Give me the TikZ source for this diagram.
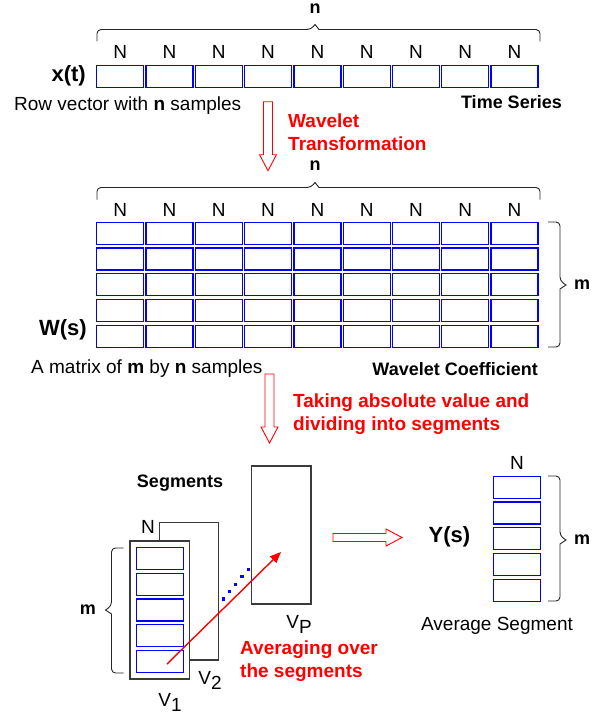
\documentclass[tikz,border=0pt]{standalone}
\usepackage{fontspec}
\setmainfont{Liberation Sans}
\usetikzlibrary{arrows.meta,positioning}
\definecolor{cellblue}{HTML}{0000FF}
\definecolor{boxgray}{HTML}{3A3A3A}
\definecolor{textred}{HTML}{FF0000}
\tikzset{
  cell/.style={draw=cellblue,line width=1.3pt,minimum width=47pt,minimum height=22pt,inner sep=0pt},
  segbox/.style={draw=boxgray,line width=1.1pt,fill=white,inner sep=0pt},
  lbl/.style={font=\fontsize{19}{22}\selectfont,inner sep=0pt},
  blbl/.style={font=\fontsize{18}{22}\selectfont\bfseries,inner sep=0pt},
  sig/.style={font=\fontsize{22}{24}\selectfont\bfseries,inner sep=0pt},
  redlbl/.style={font=\fontsize{19}{23}\selectfont\bfseries,text=textred,align=left,inner sep=0pt},
  bracket/.style={draw=black!85,line width=0.9pt},
  hollow/.style={draw=textred,line width=0.9pt,fill=white},
  avgarrow/.style={textred,line width=1.4pt,-{Triangle[length=11pt,width=9pt]}}
}
% curly braces: ends, line, tip
\newcommand\hbrace[4]{% left x, right x, tip x, line y
  \draw[bracket] (#1,#4+12) [rounded corners=4pt] |- (#3-4,#4) [sharp corners] -- (#3,#4-5) -- (#3+4,#4) -- (#3+5,#4) [rounded corners=4pt] -| (#2,#4+12);}
\newcommand\vbrace[5]{% end x, top y, bottom y, tip y, side (+1/-1)
  \draw[bracket] (#1,#2) [rounded corners=4pt] -| ({#1+12*#5},#4-4) [sharp corners] -- ({#1+18*#5},#4) -- ({#1+12*#5},#4+4) -- ({#1+12*#5},#4+5) [rounded corners=4pt] |- (#1,#3);}
% hollow block arrows
\newcommand\hollowdown[3]{% x, top y, tip y
  \draw[hollow] (#1-4.5,#2) -- (#1+4.5,#2) -- (#1+4.5,#3-16) -- (#1+8.5,#3-16) -- (#1,#3) -- (#1-8.5,#3-16) -- (#1-4.5,#3-16) -- cycle;}
\newcommand\hollowright[3]{% y, left x, tip x
  \draw[hollow] (#2,#1-4) -- (#3-16,#1-4) -- (#3-16,#1-8.5) -- (#3,#1) -- (#3-16,#1+8.5) -- (#3-16,#1+4) -- (#2,#1+4) -- cycle;}

\begin{document}
\begin{tikzpicture}[x=1pt,y=-1pt]
\useasboundingbox (0,0) rectangle (608,717);

% time series x(t)
\node[blbl] (ntop) at (315,9) {n};
\hbrace{97}{540}{315}{29.5}
\foreach \i in {1,...,9}{
  \node[cell] (x\i) at ({120.2+49.3*(\i-1)},76.3) {};
  \node[lbl,above=6pt of x\i] (xn\i) {N};
}
\node[sig,anchor=east] (xt) at (86,76) {x(t)};
\node[lbl,anchor=west] (rowtxt) at (14,106) {Row vector with \textbf{n} samples};
\node[blbl,anchor=east] (tstxt) at (562,102) {Time Series};

\hollowdown{268}{101.7}{170.7}
\node[redlbl,anchor=west] (wtxt) at (288,132) {Wavelet\\Transformation};

% wavelet coefficients W(s)
\node[blbl] (nmid) at (315,166) {n};
\hbrace{97}{540}{315}{187.5}
\foreach \r in {1,...,5}
  \foreach \c in {1,...,9}
    \node[cell] (w\r-\c) at ({120.2+49.3*(\c-1)},{233.3+25.75*(\r-1)}) {};
\foreach \c in {1,...,9}
  \node[lbl,above=5pt of w1-\c] (wn\c) {N};
\vbrace{548}{222}{347}{285}{1}
\node[blbl] (mw) at (582,285) {m};
\node[sig,anchor=east] (ws) at (87,330) {W(s)};
\node[lbl,anchor=west] (mattxt) at (31,369) {A matrix of \textbf{m} by \textbf{n} samples};
\node[blbl,anchor=east] (wctxt) at (538,369) {Wavelet Coefficient};

\hollowdown{269.5}{374}{443}
\node[redlbl,anchor=west] (segtxt) at (293,414) {Taking absolute value and\\dividing into segments};

% segments V1, V2, ..., VP
\node[blbl] (segs) at (180,483) {Segments};
\node[segbox,minimum width=59.3pt,minimum height=138pt] (vp) at (281.35,535) {};
\node[segbox,minimum width=59.4pt,minimum height=137.3pt] (v2) at (189,591.35) {};
\node[segbox,minimum width=59.3pt,minimum height=138pt] (v1) at (159.65,610) {};
\foreach \r in {1,...,5}
  \node[cell] (s\r) at (159.7,{558.5+25.75*(\r-1)}) {};
\node[lbl] (vn) at (148,527) {N};
\vbrace{123.5}{548}{673}{610}{-1}
\node[blbl] (mv) at (88,610) {m};
\node[lbl] (v1l) at (170,702) {V\raisebox{-5pt}{1}};
\node[lbl] (v2l) at (210,680) {V\raisebox{-5pt}{2}};
\node[lbl] (vpl) at (299,624) {V\raisebox{-5pt}{P}};
\foreach \i in {0,...,4}
  \fill[cellblue] ({223.3+6.25*\i-1.6},{599-7.4*\i-1.6}) rectangle +(3.2,3.2);
\coordinate (avgs) at (167,664);
\coordinate (avge) at (281,552);
\draw[avgarrow] (avgs) -- (avge);
\node[redlbl,anchor=west] (avgtxt) at (240,661) {Averaging over\\the segments};

\hollowright{537.5}{333}{402}

% average segment Y(s)
\node[sig] (ys) at (449.5,537) {Y(s)};
\foreach \r in {1,...,5}
  \node[cell] (y\r) at (517,{487.2+25.75*(\r-1)}) {};
\node[lbl,above=6pt of y1] (yn) {N};
\vbrace{548}{476}{601}{540}{1}
\node[blbl] (my) at (582,540) {m};
\node[lbl] (avgseg) at (497,626) {Average Segment};
\end{tikzpicture}
\end{document}
